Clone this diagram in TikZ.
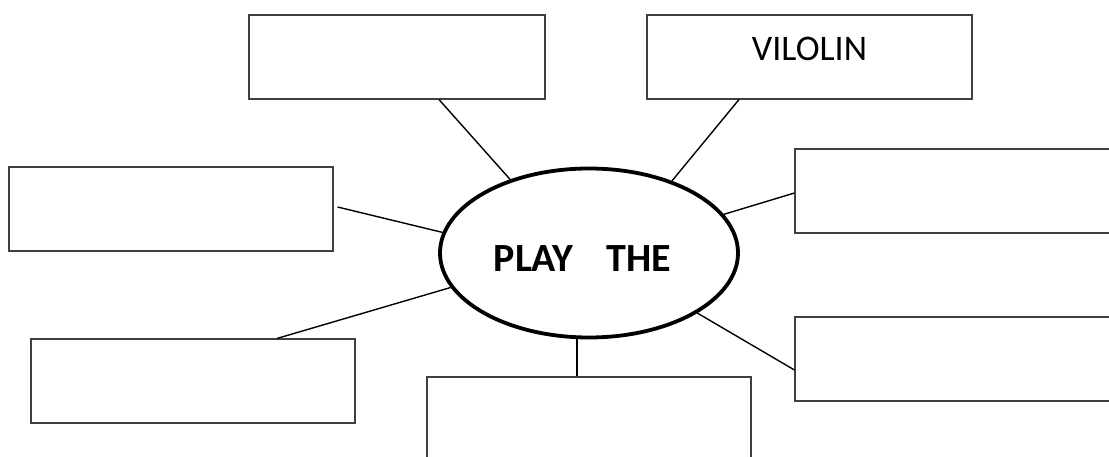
\documentclass[tikz,border=0pt]{standalone}
\usepackage{fontspec}
\setmainfont{Carlito}
\usetikzlibrary{shapes.geometric}
\begin{document}
\begin{tikzpicture}[x=1pt,y=-1pt,
    blank/.style={draw=black!75,line width=1.1pt,rectangle,inner sep=0pt,
      minimum width=324pt,minimum height=84pt},
    hub/.style={draw=black,line width=3.8pt,ellipse,inner sep=0pt,
      minimum width=298pt,minimum height=169pt},
    spoke/.style={line width=1.4pt}]
  \useasboundingbox (0,0) rectangle (1109,457);
  \clip (0,0) rectangle (1109,457);
  \node[hub] (play) at (589,253) {};
  \node[font=\fontsize{40}{46}\selectfont\bfseries] (playlabel) at (582.5,259) {PLAY\hspace{33pt}THE};
  \node[blank,minimum width=296pt] (topleft) at (397,57) {};
  \node[blank,minimum width=325pt,text height=23pt,text depth=16pt,
    font=\fontsize{36}{42}\selectfont] (violin) at (809.5,57) {VILOLIN};
  \node[blank] (left) at (171,209) {};
  \node[blank] (lowleft) at (193,381) {};
  \node[blank] (bottom) at (589,419) {};
  \node[blank,minimum width=330pt] (right) at (960,191) {};
  \node[blank,minimum width=330pt] (lowright) at (960,359) {};
  \begin{scope}[spoke]
    \draw ([xshift=42pt]topleft.south) to (play.137.6);
    \draw ([xshift=-70.5pt]violin.south) to (play.41);
    \draw ([yshift=-2pt]right.west) to (play.16.3);
    \draw ([yshift=-11pt]lowright.west) to (play.-29.5);
    \draw ([xshift=-12pt]bottom.north) to ([xshift=-12pt]play.south);
    \draw ([xshift=4pt,yshift=2pt]left.east) to (play.172.3);
    \draw ([xshift=84pt]lowleft.north) to (play.194.4);
  \end{scope}
\end{tikzpicture}
\end{document}
